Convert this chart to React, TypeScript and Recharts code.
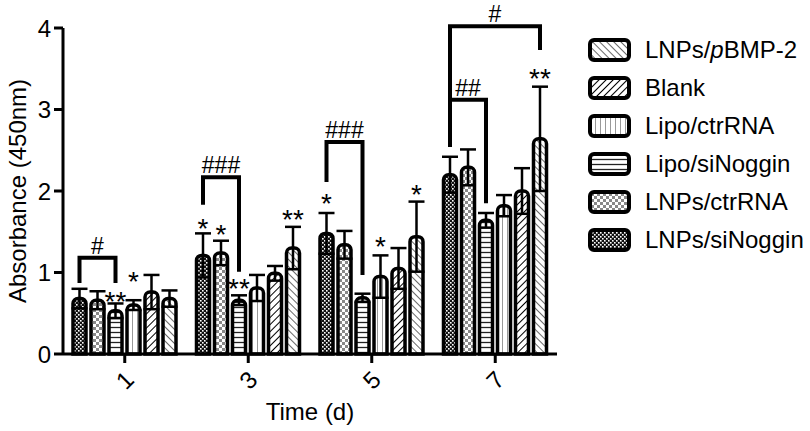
import React from 'react';
import { BarChart, Bar, XAxis, YAxis, ErrorBar, Legend, Rectangle } from 'recharts';

const categories = ['1', '3', '5', '7'];

const lnpsSiNoggin = [0.68, 1.21, 1.48, 2.2];
const lnpsSiNogginSd = [0.12, 0.27, 0.25, 0.22];
const lnpsCtrRNA = [0.66, 1.24, 1.34, 2.29];
const lnpsCtrRNASd = [0.11, 0.15, 0.17, 0.22];
const lipoSiNoggin = [0.53, 0.66, 0.69, 1.64];
const lipoSiNogginSd = [0.09, 0.06, 0.05, 0.09];
const lipoCtrRNA = [0.6, 0.81, 0.95, 1.82];
const lipoCtrRNASd = [0.06, 0.16, 0.26, 0.13];
const blank = [0.76, 0.99, 1.05, 2.0];
const blankSd = [0.21, 0.09, 0.25, 0.28];
const lnpsPBMP2 = [0.68, 1.3, 1.44, 2.64];
const lnpsPBMP2Sd = [0.1, 0.26, 0.43, 0.64];

const yTicks = [0, 1, 2, 3, 4];

// significance stars: series key, group index, text, level (absorbance units)
const starNotes = [
  { series: 'lipoSiNoggin', group: 0, text: '**', level: 0.72 },
  { series: 'lipoCtrRNA', group: 0, text: '*', level: 0.97 },
  { series: 'lnpsSiNoggin', group: 1, text: '*', level: 1.62 },
  { series: 'lnpsCtrRNA', group: 1, text: '*', level: 1.55 },
  { series: 'lipoSiNoggin', group: 1, text: '**', level: 0.88 },
  { series: 'lnpsPBMP2', group: 1, text: '**', level: 1.73 },
  { series: 'lnpsSiNoggin', group: 2, text: '*', level: 1.93 },
  { series: 'lipoCtrRNA', group: 2, text: '*', level: 1.4 },
  { series: 'lnpsPBMP2', group: 2, text: '*', level: 2.04 },
  { series: 'lnpsPBMP2', group: 3, text: '**', level: 3.46 },
];

// brackets between bars of a group (bar indices), levels in absorbance units
const bracketNotes = [
  { group: 0, from: 0, to: 2, top: 1.18, left: 0.87, right: 0.87, text: '#' },
  { group: 1, from: 0, to: 2, top: 2.17, left: 1.83, right: 1.01, text: '###' },
  { group: 2, from: 0, to: 2, top: 2.6, left: 2.11, right: 0.97, text: '###' },
  { group: 3, from: 0, to: 2, top: 3.12, left: 2.54, right: 1.85, text: '##' },
  { group: 3, from: 0, to: 5, top: 4.02, left: 2.54, right: 3.73, text: '#' },
];

const seriesList = [
  { key: 'lnpsSiNoggin', name: 'LNPs/siNoggin', pattern: 'pat-fine', values: lnpsSiNoggin, sd: lnpsSiNogginSd },
  { key: 'lnpsCtrRNA', name: 'LNPs/ctrRNA', pattern: 'pat-check', values: lnpsCtrRNA, sd: lnpsCtrRNASd },
  { key: 'lipoSiNoggin', name: 'Lipo/siNoggin', pattern: 'pat-horiz', values: lipoSiNoggin, sd: lipoSiNogginSd },
  { key: 'lipoCtrRNA', name: 'Lipo/ctrRNA', pattern: 'pat-vert', values: lipoCtrRNA, sd: lipoCtrRNASd },
  { key: 'blank', name: 'Blank', pattern: 'pat-fwd', values: blank, sd: blankSd },
  { key: 'lnpsPBMP2', name: 'LNPs/pBMP-2', pattern: 'pat-back', values: lnpsPBMP2, sd: lnpsPBMP2Sd },
];

const data = categories.map((cat, i) => {
  const row: any = { cat };
  seriesList.forEach((s) => {
    row[s.key] = s.values[i];
    row[s.key + 'Sd'] = s.sd[i];
  });
  return row;
});

const FONT = '"Liberation Sans", Arial, Helvetica, sans-serif';
const BAR_SIZE = 13;
const BAR_GAP = 5;

const makeShape = (sIdx: number) => (props: any) => {
  const { x, y, width, height, payload } = props;
  const s = seriesList[sIdx];
  const g = categories.indexOf(payload.cat);
  const val = payload[s.key];
  const base = y + height;
  const k = height / val;
  const yp = (v: number) => base - v * k;
  const cx = x + width / 2;
  const stars = starNotes.filter((a) => a.series === s.key && a.group === g);
  const brs = sIdx === 0 ? bracketNotes.filter((b) => b.group === g) : [];
  const step = width + BAR_GAP;
  return (
    <g>
      <Rectangle
        x={x}
        y={y}
        width={width}
        height={height}
        radius={[5, 5, 0, 0]}
        fill={`url(#${s.pattern})`}
        stroke="#000"
        strokeWidth={3.5}
      />
      {stars.map((a, i) => (
        <text key={'s' + i} x={cx} y={yp(a.level) + 16} textAnchor="middle" fontSize={28} fill="#000" fontFamily={FONT}>
          {a.text}
        </text>
      ))}
      {brs.map((b, i) => {
        const x1 = cx + b.from * step;
        const x2 = cx + b.to * step;
        const yt = yp(b.top);
        return (
          <g key={'b' + i}>
            <path
              d={`M${x1},${yp(b.left)} V${yt} H${x2} V${yp(b.right)}`}
              stroke="#000"
              strokeWidth={4}
              fill="none"
              strokeLinejoin="miter"
            />
            <text x={(x1 + x2) / 2} y={yt - 4} textAnchor="middle" fontSize={23} fill="#000" fontFamily={FONT}>
              {b.text}
            </text>
          </g>
        );
      })}
    </g>
  );
};

const XTick = (props: any) => {
  const { x, y, payload } = props;
  return (
    <g transform={`translate(${x},${y + 15}) rotate(-45)`}>
      <text textAnchor="middle" dominantBaseline="central" fontSize={24} fill="#000" fontFamily={FONT}>
        {payload.value}
      </text>
    </g>
  );
};

const legendOrder = [...seriesList].reverse();

const legendLabel = (name: string) => {
  if (name === 'LNPs/pBMP-2') {
    return (
      <span>
        LNPs/<i>p</i>BMP-2
      </span>
    );
  }
  return <span>{name}</span>;
};

const LegendContent = () => (
  <div style={{ fontFamily: FONT, fontSize: 24, color: '#000', width: 222 }}>
    {legendOrder.map((s) => (
      <div key={s.key} style={{ display: 'flex', alignItems: 'center', height: 38 }}>
        <svg width={43} height={24} style={{ marginRight: 14, flex: 'none' }}>
          <rect x={2} y={2} width={39} height={20} rx={4} ry={4} fill={`url(#${s.pattern})`} stroke="#000" strokeWidth={4} />
        </svg>
        {legendLabel(s.name)}
      </div>
    ))}
  </div>
);

export default function App() {
  return (
    <div style={{ position: 'absolute', left: 0, top: 0, width: 810, height: 431, background: '#fff' }}>
      <BarChart
        width={810}
        height={431}
        data={data}
        margin={{ top: 28, right: 31, bottom: 17, left: 0 }}
        barSize={BAR_SIZE}
        barGap={BAR_GAP}
        style={{ fontFamily: FONT }}
      >
        <defs>
          <pattern id="pat-back" patternUnits="userSpaceOnUse" width={5} height={5} patternTransform="rotate(-45)">
            <rect width={5} height={5} fill="#fff" />
            <line x1={0} y1={0} x2={0} y2={5} stroke="#444" strokeWidth={1.6} />
          </pattern>
          <pattern id="pat-fwd" patternUnits="userSpaceOnUse" width={5} height={5} patternTransform="rotate(45)">
            <rect width={5} height={5} fill="#fff" />
            <line x1={0} y1={0} x2={0} y2={5} stroke="#000" strokeWidth={2} />
          </pattern>
          <pattern id="pat-vert" patternUnits="userSpaceOnUse" width={5} height={5}>
            <rect width={5} height={5} fill="#fff" />
            <line x1={2.5} y1={0} x2={2.5} y2={5} stroke="#999" strokeWidth={1} />
          </pattern>
          <pattern id="pat-horiz" patternUnits="userSpaceOnUse" width={5} height={5}>
            <rect width={5} height={5} fill="#fff" />
            <line x1={0} y1={2.5} x2={5} y2={2.5} stroke="#222" strokeWidth={1.3} />
          </pattern>
          <pattern id="pat-check" patternUnits="userSpaceOnUse" width={6} height={6}>
            <rect width={6} height={6} fill="#fff" />
            <rect x={0} y={0} width={3} height={3} fill="#888" />
            <rect x={3} y={3} width={3} height={3} fill="#888" />
          </pattern>
          <pattern id="pat-fine" patternUnits="userSpaceOnUse" width={4} height={4}>
            <rect width={4} height={4} fill="#111" />
            <rect x={0} y={0} width={1.6} height={1.6} fill="#fff" />
            <rect x={2} y={2} width={1.6} height={1.6} fill="#fff" />
          </pattern>
        </defs>
        <XAxis
          dataKey="cat"
          height={60}
          tickSize={9}
          tickLine={{ stroke: '#000', strokeWidth: 3 }}
          axisLine={{ stroke: '#000', strokeWidth: 3 }}
          tick={<XTick />}
          interval={0}
          label={{
            content: (p: any) => {
              const vb = p.viewBox;
              return (
                <text x={vb.x + vb.width / 2} y={vb.y + vb.height + 6} textAnchor="middle" fontSize={24} fill="#000" fontFamily={FONT}>
                  Time (d)
                </text>
              );
            },
          }}
        />
        <YAxis
          width={63}
          domain={[0, 4]}
          ticks={yTicks}
          tickSize={9}
          tickMargin={3}
          interval={0}
          tickLine={{ stroke: '#000', strokeWidth: 3 }}
          axisLine={{ stroke: '#000', strokeWidth: 3 }}
          tick={{ fill: '#000', fontSize: 24, fontFamily: FONT }}
          label={{
            content: (p: any) => {
              const vb = p.viewBox;
              const cx = 17;
              const cy = vb.y + vb.height / 2;
              return (
                <text
                  x={cx}
                  y={cy}
                  transform={`rotate(-90, ${cx}, ${cy})`}
                  textAnchor="middle"
                  dominantBaseline="central"
                  fontSize={24}
                  fill="#000"
                  fontFamily={FONT}
                >
                  Absorbance (450nm)
                </text>
              );
            },
          }}
        />
        <Legend
          layout="vertical"
          align="right"
          verticalAlign="top"
          width={222}
          wrapperStyle={{ left: 588, top: 31 }}
          content={() => <LegendContent />}
        />
        {seriesList.map((s, i) => (
          <Bar key={s.key} dataKey={s.key} name={s.name} isAnimationActive={false} shape={makeShape(i)}>
            <ErrorBar dataKey={s.key + 'Sd'} width={8} stroke="#000" strokeWidth={2.5} direction="y" isAnimationActive={false} />
          </Bar>
        ))}
      </BarChart>
    </div>
  );
}
